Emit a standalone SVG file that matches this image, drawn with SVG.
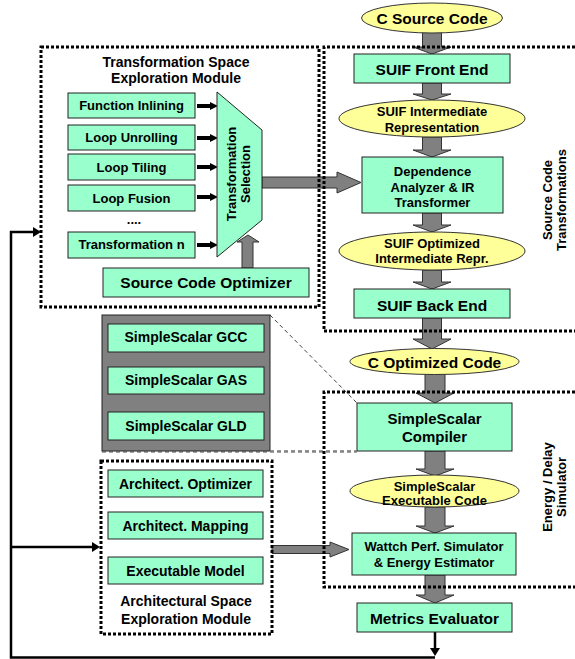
<svg xmlns="http://www.w3.org/2000/svg" width="575" height="659" viewBox="0 0 575 659">
<defs>
<style>
text{font-family:"Liberation Sans",Arial,sans-serif;font-weight:bold;fill:#000;text-anchor:middle}
.box{fill:#99ffcc;stroke:#222;stroke-width:1}
.ell{fill:#ffff99;stroke:#333;stroke-width:1}
.garr{fill:#808080;stroke:#333;stroke-width:1}
.dot{fill:none;stroke:#000;stroke-width:3;stroke-dasharray:3 2}
.blk{fill:none;stroke:#000;stroke-width:2.5}
.sm{stroke:#000;stroke-width:4}
.f13{font-size:13px}
.f14{font-size:14px}
.f15{font-size:15px}
.f155{font-size:15.5px}
</style>
<marker id="ah" markerUnits="userSpaceOnUse" markerWidth="8" markerHeight="8" refX="0" refY="4" orient="auto">
<path d="M0,0 L8,4 L0,8 z" fill="#000"/>
</marker>
<marker id="ah2" markerUnits="userSpaceOnUse" markerWidth="8" markerHeight="10" refX="0" refY="5" orient="auto">
<path d="M0,0 L8,5 L0,10 z" fill="#000"/>
</marker>
</defs>
<rect width="575" height="659" fill="#fff"/>

<g id="connectors">
<polygon class="garr" points="422.5,31 441.5,31 441.5,47 451,47 432,54 413,47 422.5,47"/>
<polygon class="garr" points="422.5,83 441.5,83 441.5,94 451,94 432,100 413,94 422.5,94"/>
<polygon class="garr" points="422.5,137 441.5,137 441.5,150 451,150 432,157 413,150 422.5,150"/>
<polygon class="garr" points="422.5,213 441.5,213 441.5,225 451,225 432,232 413,225 422.5,225"/>
<polygon class="garr" points="422.5,270 441.5,270 441.5,282 451,282 432,289 413,282 422.5,282"/>
<polygon class="garr" points="422.5,318 441.5,318 441.5,339 451,339 432,349 413,339 422.5,339"/>
<polygon class="garr" points="425,368 445,368 445,393 454,393 435,403 416,393 425,393"/>
<polygon class="garr" points="425,451 445,451 445,469 454,469 435,476 416,469 425,469"/>
<polygon class="garr" points="425,507 445,507 445,526 454,526 435,533 416,526 425,526"/>
<polygon class="garr" points="425,575 445,575 445,595 454,595 435,603 416,595 425,595"/>
<polygon class="garr" points="262,177 337,177 337,172 361,182.5 337,193 337,188 262,188"/>
<polygon class="garr" points="272,545.5 330,545.5 330,542 349,549.5 330,557 330,553.5 272,553.5"/>
<polygon class="garr" points="242,268 242,242 237,242 248,235 259,242 253,242 253,268"/>
<line class="sm" x1="197" y1="106" x2="210" y2="106" marker-end="url(#ah)"/>
<line class="sm" x1="197" y1="138" x2="210" y2="138" marker-end="url(#ah)"/>
<line class="sm" x1="197" y1="167" x2="210" y2="167" marker-end="url(#ah)"/>
<line class="sm" x1="197" y1="197" x2="210" y2="197" marker-end="url(#ah)"/>
<line class="sm" x1="197" y1="245" x2="210" y2="245" marker-end="url(#ah)"/>
<line class="blk" x1="435" y1="632" x2="435" y2="648" marker-end="url(#ah2)"/>
<path class="blk" d="M435,657.5 H11 V232 H33" marker-end="url(#ah2)"/>
<path class="blk" d="M11,547 H92" marker-end="url(#ah2)"/>
<line x1="270" y1="315" x2="357" y2="403" stroke="#404040" stroke-width="1" stroke-dasharray="4 3"/>
<line x1="102" y1="452" x2="357" y2="452" stroke="#888" stroke-width="1.5" stroke-dasharray="4 3"/>
</g>

<g id="c-source-code">
<ellipse class="ell" cx="432" cy="18" rx="70.5" ry="15"/>
<text class="f155" x="432" y="23.5">C Source Code</text>
</g>
<g id="suif-front-end">
<rect class="box" x="354" y="54" width="156" height="29"/>
<text class="f155" x="432" y="74.5">SUIF Front End</text>
</g>
<g id="suif-ir">
<ellipse class="ell" cx="432" cy="118.5" rx="93" ry="18.5"/>
<text class="f13" x="432" y="115.5">SUIF Intermediate</text>
<text class="f13" x="432" y="131.5">Representation</text>
</g>
<g id="dependence-analyzer">
<rect class="box" x="362" y="157" width="141" height="56"/>
<text class="f13" x="432.5" y="175.5">Dependence</text>
<text class="f13" x="432.5" y="191.5">Analyzer &amp; IR</text>
<text class="f13" x="432.5" y="207">Transformer</text>
</g>
<g id="suif-optimized-ir">
<ellipse class="ell" cx="432" cy="251" rx="93" ry="19"/>
<text class="f13" x="432" y="247.5">SUIF Optimized</text>
<text class="f13" x="432" y="263">Intermediate Repr.</text>
</g>
<g id="suif-back-end">
<rect class="box" x="354" y="289" width="156" height="29"/>
<text class="f155" x="432" y="310.5">SUIF Back End</text>
</g>
<g id="c-optimized-code">
<ellipse class="ell" cx="434.5" cy="361.5" rx="84.5" ry="13"/>
<text class="f155" x="434.5" y="367.5">C Optimized Code</text>
</g>
<g id="simplescalar-compiler">
<rect class="box" x="357" y="403" width="155" height="48"/>
<text class="f15" x="434.5" y="424">SimpleScalar</text>
<text class="f15" x="434.5" y="442">Compiler</text>
</g>
<g id="simplescalar-executable">
<ellipse class="ell" cx="434.5" cy="491" rx="84.5" ry="16"/>
<text class="f13" x="434.5" y="491">SimpleScalar</text>
<text class="f13" x="434.5" y="504.5">Executable Code</text>
</g>
<g id="wattch">
<rect class="box" x="352" y="533" width="164" height="42"/>
<text class="f13" x="434" y="551">Wattch Perf. Simulator</text>
<text class="f13" x="434" y="566.5">&amp; Energy Estimator</text>
</g>
<g id="metrics-evaluator">
<rect class="box" x="357" y="603" width="155" height="29"/>
<text class="f155" x="434.5" y="624">Metrics Evaluator</text>
</g>

<g id="transformation-module">
<text class="f14" x="176" y="66.5">Transformation Space</text>
<text class="f14" x="176" y="83">Exploration Module</text>
<g id="function-inlining">
<rect class="box" x="68" y="93" width="127" height="25"/>
<text class="f13" x="131.5" y="110.3">Function Inlining</text>
</g>
<g id="loop-unrolling">
<rect class="box" x="68" y="125" width="127" height="25"/>
<text class="f13" x="131.5" y="142">Loop Unrolling</text>
</g>
<g id="loop-tiling">
<rect class="box" x="68" y="154" width="127" height="26"/>
<text class="f13" x="131.5" y="171.6">Loop Tiling</text>
</g>
<g id="loop-fusion">
<rect class="box" x="68" y="185" width="127" height="26"/>
<text class="f13" x="131.5" y="202.6">Loop Fusion</text>
</g>
<text class="f13" x="134" y="224">....</text>
<g id="transformation-n">
<rect class="box" x="68" y="232" width="127" height="26"/>
<text class="f13" x="131.5" y="249.3">Transformation n</text>
</g>
<g id="transformation-selection">
<polygon class="box" points="217,92 262,130 262,220 217,257"/>
<text class="f13" transform="translate(235.5,174) rotate(-90)">Transformation</text>
<text class="f13" transform="translate(249.5,174) rotate(-90)">Selection</text>
</g>
<g id="source-code-optimizer">
<rect class="box" x="103" y="268" width="206" height="29"/>
<text class="f155" x="206" y="288">Source Code Optimizer</text>
</g>
</g>

<g id="simplescalar-tools">
<rect x="102" y="315" width="168" height="136" fill="#808080" stroke="#222" stroke-width="1"/>
<g id="ss-gcc">
<rect class="box" x="108" y="324" width="156" height="28"/>
<text class="f14" x="186" y="342">SimpleScalar GCC</text>
</g>
<g id="ss-gas">
<rect class="box" x="108" y="367" width="156" height="27"/>
<text class="f14" x="186" y="385">SimpleScalar GAS</text>
</g>
<g id="ss-gld">
<rect class="box" x="108" y="412" width="156" height="28"/>
<text class="f14" x="186" y="430.5">SimpleScalar GLD</text>
</g>
</g>
<line x1="270" y1="451" x2="357" y2="451" stroke="#777" stroke-width="1.5" stroke-dasharray="4 3"/>

<g id="architectural-module">
<g id="architect-optimizer">
<rect class="box" x="108" y="470" width="155" height="27"/>
<text class="f14" x="185.5" y="488.5">Architect. Optimizer</text>
</g>
<g id="architect-mapping">
<rect class="box" x="108" y="512" width="155" height="27"/>
<text class="f14" x="185.5" y="530.5">Architect. Mapping</text>
</g>
<g id="executable-model">
<rect class="box" x="108" y="557" width="155" height="27"/>
<text class="f14" x="185.5" y="575.5">Executable Model</text>
</g>
<text class="f14" x="186" y="606">Architectural Space</text>
<text class="f14" x="186" y="623.5">Exploration Module</text>
<rect class="dot" x="101" y="461" width="171" height="173"/>
</g>

<g id="frames">
<rect class="dot" x="41" y="47" width="278" height="260"/>
<path class="dot" d="M580,47 H324 V331 H580"/>
<path class="dot" d="M580,392 H324 V587 H580"/>
<text class="f13" transform="translate(551.5,200) rotate(-90)">Source Code</text>
<text class="f13" transform="translate(566,200) rotate(-90)">Transformations</text>
<text class="f13" transform="translate(551.5,487) rotate(-90)">Energy / Delay</text>
<text class="f13" transform="translate(565.5,487) rotate(-90)">Simulator</text>
</g>
</svg>
